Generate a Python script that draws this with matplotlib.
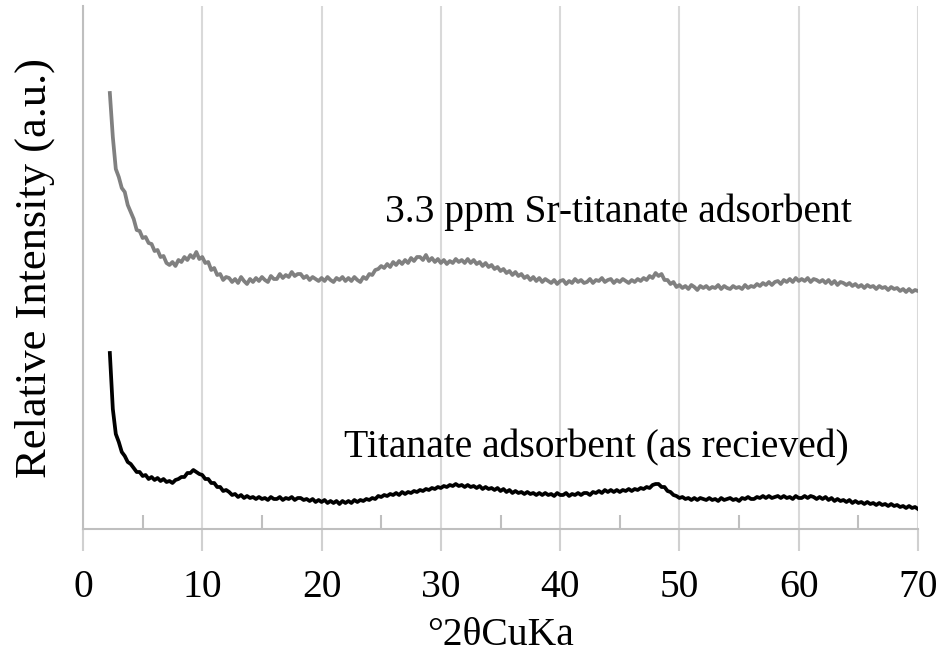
import numpy as np
import matplotlib
matplotlib.use("Agg")
import matplotlib.pyplot as plt
from matplotlib.ticker import MultipleLocator

# scan grid, degrees 2-theta (0.25 deg step)
two_theta = np.arange(2.25, 70.001, 0.25)

# Sr-loaded titanate, arbitrary intensity (one row = 2 degrees)
sr_titanate = [
    436, 392, 360, 352, 341, 337, 324, 317,
    310, 299, 298, 291, 292, 286, 285, 278,
    279, 272, 273, 266, 264, 267, 263, 269,
    267, 272, 269, 274, 271, 277, 270, 272,
    266, 267, 259, 261, 254, 255, 249, 252,
    251, 247, 250, 246, 252, 248, 245, 250,
    247, 251, 248, 252, 249, 247, 253, 250,
    250, 255, 251, 254, 252, 257, 253, 255,
    255, 251, 253, 249, 252, 250, 248, 251,
    248, 252, 249, 247, 251, 249, 252, 248,
    251, 248, 252, 249, 247, 252, 250, 255,
    254, 259, 260, 263, 261, 265, 262, 267,
    264, 268, 265, 269, 266, 271, 268, 272,
    272, 269, 274, 268, 271, 267, 270, 266,
    269, 265, 268, 266, 270, 267, 269, 266,
    270, 266, 269, 265, 267, 263, 266, 262,
    264, 260, 262, 258, 260, 256, 258, 254,
    257, 253, 255, 251, 253, 249, 252, 248,
    251, 247, 250, 248, 246, 249, 245, 248,
    249, 245, 248, 246, 250, 247, 249, 246,
    247, 250, 246, 249, 248, 251, 247, 249,
    250, 246, 249, 247, 250, 248, 246, 249,
    247, 250, 248, 251, 249, 253, 251, 256,
    253, 255, 249, 249, 245, 247, 242, 244,
    241, 243, 240, 244, 242, 239, 243, 241,
    243, 240, 242, 241, 244, 240, 243, 241,
    240, 243, 241, 242, 240, 244, 241, 243,
    242, 245, 243, 246, 244, 247, 244, 247,
    248, 245, 249, 247, 250, 247, 251, 248,
    250, 248, 251, 247, 250, 249, 247, 249,
    246, 249, 245, 248, 244, 247, 246, 244,
    246, 243, 245, 242, 244, 241, 244, 242,
    243, 240, 243, 241, 242, 239, 242, 240,
    241, 238, 240, 237, 240, 237, 239, 238,
]

# as-received titanate
as_received = [
    176, 120, 95, 87, 77, 73, 67, 65,
    61, 57, 57, 53, 54, 50, 52, 49,
    51, 48, 50, 47, 48, 46, 49, 50,
    52, 52, 56, 56, 59, 57, 55, 54,
    50, 50, 46, 46, 42, 42, 38, 39,
    37, 34, 35, 32, 34, 31, 33, 31,
    32, 30, 32, 30, 31, 29, 32, 30,
    30, 32, 29, 31, 30, 32, 29, 31,
    31, 29, 30, 28, 30, 27, 29, 27,
    29, 26, 28, 26, 28, 25, 28, 26,
    28, 26, 29, 27, 29, 28, 30, 29,
    31, 30, 33, 32, 34, 33, 35, 34,
    36, 34, 37, 35, 37, 36, 38, 37,
    39, 38, 40, 39, 41, 40, 42, 41,
    43, 42, 44, 43, 45, 43, 44, 42,
    44, 42, 43, 41, 43, 40, 42, 40,
    41, 39, 41, 38, 40, 37, 39, 36,
    38, 36, 37, 35, 37, 35, 36, 34,
    36, 34, 36, 34, 35, 33, 36, 34,
    34, 36, 33, 35, 34, 36, 34, 36,
    36, 34, 37, 36, 38, 36, 39, 37,
    39, 37, 39, 37, 39, 38, 40, 38,
    40, 39, 41, 40, 42, 41, 44, 45,
    45, 42, 42, 38, 37, 34, 33, 31,
    32, 30, 31, 29, 31, 29, 31, 30,
    29, 31, 29, 30, 28, 31, 29, 30,
    31, 29, 30, 28, 31, 30, 32, 30,
    30, 32, 31, 33, 31, 33, 31, 32,
    33, 31, 33, 31, 32, 30, 33, 31,
    31, 33, 31, 33, 32, 30, 32, 30,
    32, 29, 31, 28, 30, 28, 29, 27,
    29, 26, 28, 26, 27, 25, 27, 25,
    26, 24, 26, 24, 25, 23, 25, 23,
    24, 22, 23, 21, 23, 21, 22, 20,
]

labels = ["3.3 ppm Sr-titanate adsorbent", "Titanate adsorbent (as recieved)"]

plt.rcParams["font.family"] = ["Liberation Serif", "DejaVu Serif"]

fig = plt.figure(figsize=(9.43, 6.59), dpi=100)
ax = fig.add_axes([83 / 943, 130 / 659, 835 / 943, 523 / 659])

ax.plot(two_theta, sr_titanate, color="#808080", lw=2.7)
ax.plot(two_theta, as_received, color="black", lw=2.7)

ax.text(44.9, 307, labels[0], ha="center", va="baseline", fontsize=28.5)
ax.text(43.0, 72, labels[1], ha="center", va="baseline", fontsize=28.5)

ax.set_xlim(0, 70)
ax.set_ylim(0, 523)
ax.set_yticks([])
ax.xaxis.set_major_locator(MultipleLocator(10))
ax.xaxis.set_minor_locator(MultipleLocator(5))
ax.xaxis.grid(True, which="major", color="#d9d9d9", lw=1.5)
ax.set_axisbelow(True)

for side in ["top", "right"]:
    ax.spines[side].set_visible(False)
for side in ["left", "bottom"]:
    ax.spines[side].set_color("#bfbfbf")
    ax.spines[side].set_linewidth(1.5)

ax.tick_params(axis="x", which="major", direction="out", length=16, width=1.5,
               color="#d0d0d0", labelsize=28.5, pad=13)
ax.tick_params(axis="x", which="minor", direction="in", length=10, width=1.5,
               color="#bfbfbf")

ax.set_xlabel("°2θCuKa", fontsize=28.5, labelpad=8)
ax.set_ylabel("Relative Intensity (a.u.)", fontsize=32, labelpad=20)

fig.savefig("out.png", dpi=100)
